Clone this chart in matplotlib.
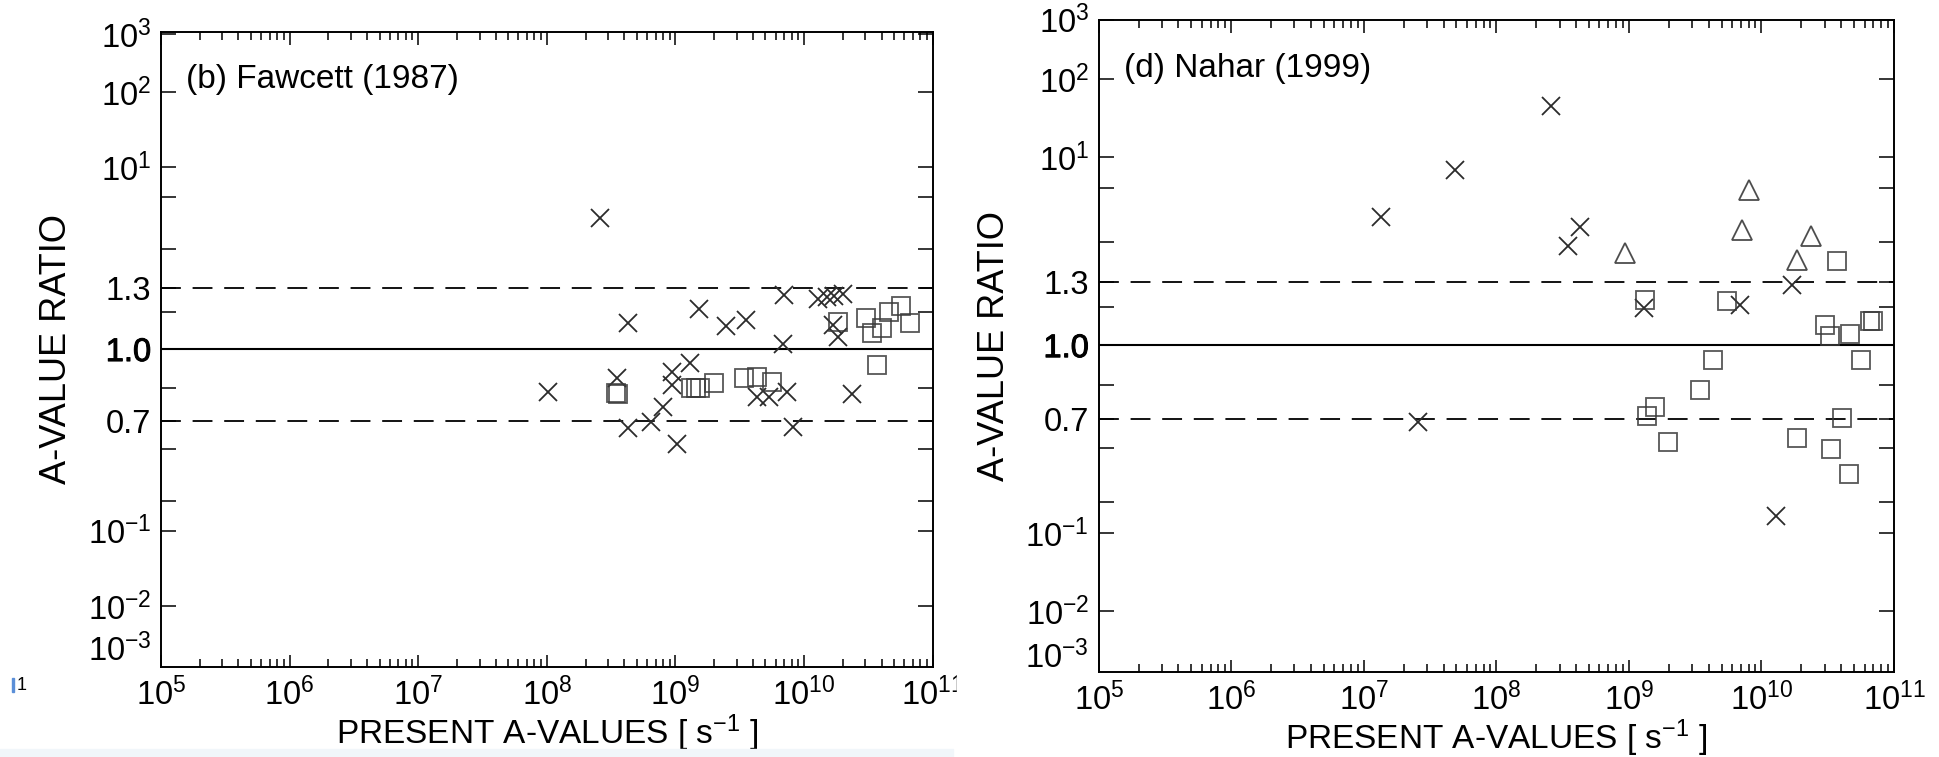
import numpy as np
import matplotlib
matplotlib.use("Agg")
import matplotlib.pyplot as plt
import matplotlib.patheffects as pe
from matplotlib.patches import Rectangle
from matplotlib.ticker import LogLocator, NullLocator

plt.rcParams['font.family'] = ['Liberation Sans', 'DejaVu Sans']
plt.rcParams['mathtext.fontset'] = 'custom'
plt.rcParams['mathtext.rm'] = 'Liberation Sans'
plt.rcParams['mathtext.it'] = 'Liberation Sans:italic'
plt.rcParams['mathtext.default'] = 'regular'

# ---- data ----
# (b) Fawcett (1987)
faw_cross_x = [1.03e8, 2.6e8, 3.49e8, 4.3e8, 4.3e8, 6.45e8, 8.04e8, 9.35e8, 9.35e8,
               1.02e9, 1.3e9, 1.52e9, 2.46e9, 3.51e9, 4.33e9, 5.37e9, 7.33e9,
               7.02e9, 6.9e9, 8.15e9, 1.28e10, 1.5e10, 1.72e10, 2.0e10, 1.69e10,
               1.85e10, 2.37e10]
faw_cross_y = [0.881, 3.3, 0.942, 1.049, 0.645, 0.692, 0.793, 0.965, 0.914,
               0.533, 0.986, 1.118, 1.038, 1.06, 0.853, 0.853, 0.881,
               1.226, 1.002, 0.656, 1.188, 1.205, 1.22, 1.235, 1.041,
               1.011, 0.868]
faw_sq_x = [3.45e8, 3.55e8, 1.33e9, 1.45e9, 1.55e9, 2.0e9, 3.41e9, 4.33e9, 5.6e9,
            1.85e10, 3.01e10, 3.35e10, 4.01e10, 4.59e10, 5.66e10, 6.65e10, 3.71e10]
faw_sq_y = [0.872, 0.866, 0.898, 0.90, 0.90, 0.924, 0.942, 0.948, 0.928,
            1.053, 1.071, 1.017, 1.030, 1.102, 1.137, 1.047, 0.982]

# (d) Nahar (1999)
nah_cross_x = [1.35e7, 2.58e7, 4.85e7, 2.6e8, 3.49e8, 4.28e8, 1.29e9, 6.89e9,
               1.29e10, 1.69e10]
nah_cross_y = [2.94, 0.679, 7.4, 42.0, 1.91, 2.50, 1.094, 1.113, 0.150, 1.27]
nah_tri_x = [9.35e8, 8.09e9, 7.13e9, 2.35e10, 1.85e10]
nah_tri_y = [1.737, 4.81, 2.38, 2.19, 1.61]
nah_sq_x = [3.70e10, 1.32e9, 5.47e9, 3.02e10, 3.29e10, 4.66e10, 6.59e10, 6.9e10,
            5.64e10, 4.28e9, 3.44e9, 1.57e9, 1.36e9, 1.98e9, 4.03e10, 1.85e10,
            3.33e10, 4.6e10]
nah_sq_y = [1.59, 1.145, 1.134, 1.026, 1.006, 1.008, 1.038, 1.04,
            0.985, 0.986, 0.875, 0.78, 0.721, 0.543, 0.71, 0.573,
            0.494, 0.338]

ytick_vals = [1e3, 1e2, 1e1, 5, 2, 1.3, 1.1, 1.0, 0.9, 0.7, 0.5, 0.2, 1e-1, 1e-2]
ytick_labels = ['$10^{3}$', '$10^{2}$', '$10^{1}$', '', '', '1.3', '', '1.0', '',
                '0.7', '', '', '$10^{-1}$', '$10^{-2}$']
xtick_vals = [1e5, 1e6, 1e7, 1e8, 1e9, 1e10, 1e11]
xtick_labels = ['$10^{5}$', '$10^{6}$', '$10^{7}$', '$10^{8}$', '$10^{9}$',
                '$10^{10}$', '$10^{11}$']


# ratio axis: signed square root of log10(ratio)
def fwd(r):
    L = np.log10(np.clip(r, 1e-12, None))
    return np.sign(L) * np.sqrt(np.abs(L))


def inv(y):
    return 10.0 ** (np.sign(y) * y ** 2)


fig = plt.figure(figsize=(19.39, 7.57), dpi=100)
ax1 = fig.add_axes([0.08303, 0.11929, 0.39799, 0.83804])
ax2 = fig.add_axes([0.56663, 0.11268, 0.41016, 0.86130])

DASH = (0, (11, 6.5))
INK = '#2b2b2b'
TICKFS = 23.5


def setup(ax, title, ylo, yhi):
    ax.set_xscale('log')
    ax.set_yscale('function', functions=(fwd, inv))
    ax.set_xlim(1e5, 1e11)
    ax.set_ylim(10 ** -(ylo ** 2), 10 ** (yhi ** 2))
    ax.axhline(1.0, color='k', lw=1.5, zorder=1)
    ax.axhline(1.3, color='k', lw=1.3, ls=DASH, zorder=1)
    ax.axhline(0.7, color='k', lw=1.3, ls=DASH, zorder=1)

    ax.set_xticks(xtick_vals, xtick_labels)
    ax.xaxis.set_minor_locator(LogLocator(base=10, subs=np.arange(2, 10), numticks=30))
    ax.set_yticks(ytick_vals, ytick_labels)
    ax.yaxis.set_minor_locator(NullLocator())
    ax.tick_params(which='both', direction='in', top=True, right=True, width=1.1)
    ax.tick_params(axis='x', which='major', length=9, pad=8, labelsize=TICKFS)
    ax.tick_params(axis='x', which='minor', length=5.5)
    ax.tick_params(axis='y', which='major', length=11, pad=7, labelsize=TICKFS)
    for lab in ax.get_yticklabels():
        if lab.get_text() == '1.0':
            lab.set_path_effects([pe.withStroke(linewidth=0.7, foreground='black')])
    for s in ax.spines.values():
        s.set_linewidth(1.4)

    ax.annotate('$10^{-3}$', xy=(0, 10 ** -2.7), xycoords=('axes fraction', 'data'),
                xytext=(-7, 0), textcoords='offset points', ha='right',
                va='center_baseline', fontsize=TICKFS)
    ax.text(0.032, 0.925, title, transform=ax.transAxes, fontsize=24, va='center')
    ax.set_ylabel('A-VALUE RATIO', fontsize=26, labelpad=10)
    ax.set_xlabel('PRESENT A-VALUES [ s$^{-1}$ ]', fontsize=24, labelpad=0)


setup(ax1, '(b) Fawcett (1987)', 1.748, 1.743)
setup(ax2, '(d) Nahar (1999)', 1.738, 1.720)

mk = dict(ls='none', mfc='none', zorder=3)
ax1.plot(faw_cross_x, faw_cross_y, marker='x', ms=13.5, mew=1.3, color=INK, **mk)
ax1.plot(faw_sq_x, faw_sq_y, marker='s', ms=12.5, mew=1.3, color='#3a3a3a', alpha=0.85, **mk)

ax2.plot(nah_cross_x, nah_cross_y, marker='x', ms=13.5, mew=1.3, color=INK, **mk)
ax2.plot(nah_tri_x, nah_tri_y, marker='^', ms=14, mew=1.3, color='#3a3a3a', alpha=0.9, **mk)
ax2.plot(nah_sq_x, nah_sq_y, marker='s', ms=12.5, mew=1.3, color='#3a3a3a', alpha=0.85, **mk)

# bits of the page around the cropped panels
fig.patches.append(Rectangle((0, 0), 953 / 1939, 8 / 757, transform=fig.transFigure,
                             color='#f1f6fa', zorder=0))
fig.patches.append(Rectangle((957 / 1939, 0.045), 25 / 1939, 0.07,
                             transform=fig.transFigure, color='white', zorder=5))
fig.patches.append(Rectangle((12 / 1939, 1 - 692 / 757), 2 / 1939, 14 / 757,
                             transform=fig.transFigure, color='#5b8fd8', zorder=1))
fig.text(17 / 1939, 1 - 685 / 757, '1', fontsize=13, va='center')

fig.savefig('out.png', dpi=100)
